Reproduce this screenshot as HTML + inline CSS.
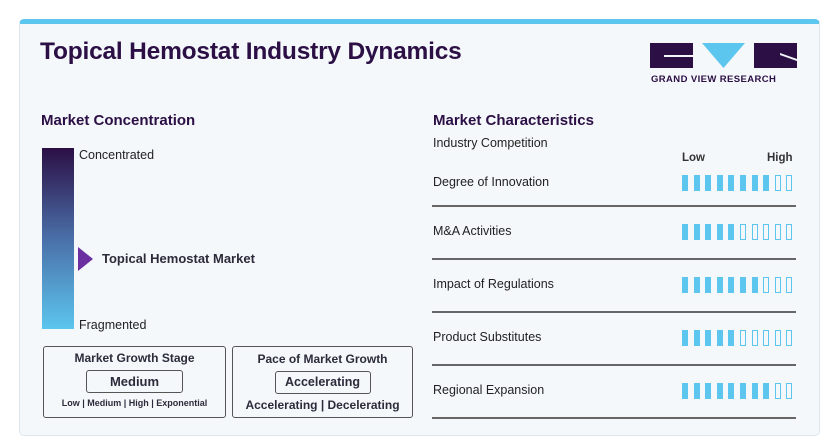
<!DOCTYPE html><html><head><style>
body{margin:0;width:829px;height:444px;background:#fff;font-family:"Liberation Sans",sans-serif;position:relative;overflow:hidden;color:#2a1a3a}
.card{position:absolute;left:19px;top:19px;width:801px;height:417px;background:#f4f8fb;border-radius:5px;border:1px solid #dde4ea;border-top:5px solid #5cc6ee;box-sizing:border-box}
.a{position:absolute;white-space:nowrap}
.t{font-weight:bold;font-size:24.5px;color:#2b0f45;letter-spacing:-0.2px}
.h{font-weight:bold;font-size:15px;color:#2b0f45}
.s{font-size:12.5px;color:#222}
.line{position:absolute;left:432px;width:364px;height:1.5px;background:#666}
.bars{position:absolute;left:682px;display:flex;gap:5.6px}
.bars i{display:block;width:6px;height:16px;box-sizing:border-box;border:1.3px solid #5cc6ee}
.bars i.f{background:#5cc6ee}
.box{position:absolute;border:1.3px solid #555;border-radius:3px;box-sizing:border-box;text-align:center;font-weight:bold;color:#2b2b3a}
</style></head><body>
<div class="card"></div>
<div class="a t" style="left:40px;top:38px">Topical Hemostat Industry Dynamics</div>
<svg class="a" style="left:650px;top:43px" width="148" height="30">
<rect x="0" y="0" width="43" height="25" fill="#2b0f45"/><rect x="14" y="12" width="29" height="2" fill="#f4f8fb"/>
<polygon points="52,0 95,0 73.5,25" fill="#5cc6ee"/>
<rect x="104" y="0" width="43" height="25" fill="#2b0f45"/><polygon points="130,10 147,16 147,18 130,12" fill="#f4f8fb"/>
</svg>
<div class="a" style="left:651px;top:74px;font-size:9.5px;font-weight:bold;color:#2b0f45;letter-spacing:0.4px">GRAND VIEW RESEARCH</div>
<div class="a h" style="left:41px;top:112px">Market Concentration</div>
<div class="a h" style="left:433px;top:112px">Market Characteristics</div>
<div class="a s" style="left:433px;top:136px">Industry Competition</div>
<div class="a" style="left:42px;top:148px;width:32px;height:181px;background:linear-gradient(#2b0f45,#4a6fa8 50%,#5cc6ee)"></div>
<div class="a s" style="left:79px;top:148px">Concentrated</div>
<div class="a s" style="left:79px;top:318px">Fragmented</div>
<svg class="a" style="left:78px;top:247px" width="16" height="24"><polygon points="0,0 15,12 0,24" fill="#6b2fa0"/></svg>
<div class="a" style="left:102px;top:251px;font-size:13px;font-weight:bold;color:#2b2b3a">Topical Hemostat Market</div>
<div class="a" style="left:682px;top:152px;font-size:11.5px;font-weight:bold;color:#333">Low</div>
<div class="a" style="left:767px;top:152px;font-size:11.5px;font-weight:bold;color:#333">High</div>

<div class="a s" style="left:433px;top:175px">Degree of Innovation</div>
<div class="bars" style="top:175px"><i class="f"></i><i class="f"></i><i class="f"></i><i class="f"></i><i class="f"></i><i class="f"></i><i class="f"></i><i class="f"></i><i></i><i></i></div>
<div class="line" style="top:205px"></div>
<div class="a s" style="left:433px;top:224px">M&amp;A Activities</div>
<div class="bars" style="top:224px"><i class="f"></i><i class="f"></i><i class="f"></i><i class="f"></i><i class="f"></i><i></i><i></i><i></i><i></i><i></i></div>
<div class="line" style="top:258px"></div>
<div class="a s" style="left:433px;top:277px">Impact of Regulations</div>
<div class="bars" style="top:277px"><i class="f"></i><i class="f"></i><i class="f"></i><i class="f"></i><i class="f"></i><i class="f"></i><i class="f"></i><i></i><i></i><i></i></div>
<div class="line" style="top:311px"></div>
<div class="a s" style="left:433px;top:330px">Product Substitutes</div>
<div class="bars" style="top:330px"><i class="f"></i><i class="f"></i><i class="f"></i><i class="f"></i><i class="f"></i><i></i><i></i><i></i><i></i><i></i></div>
<div class="line" style="top:364px"></div>
<div class="a s" style="left:433px;top:383px">Regional Expansion</div>
<div class="bars" style="top:383px"><i class="f"></i><i class="f"></i><i class="f"></i><i class="f"></i><i class="f"></i><i class="f"></i><i class="f"></i><i class="f"></i><i></i><i></i></div>
<div class="line" style="top:417px"></div>

<div class="box" style="left:43px;top:346px;width:183px;height:72px">
<div style="font-size:12px;margin-top:4px">Market Growth Stage</div>
<div class="box" style="position:relative;width:97px;height:23px;margin:5px auto 0;line-height:21px;font-size:13px">Medium</div>
<div style="font-size:9px;margin-top:5px">Low | Medium | High | Exponential</div>
</div>
<div class="box" style="left:232px;top:346px;width:181px;height:72px">
<div style="font-size:12px;margin-top:5px">Pace of Market Growth</div>
<div class="box" style="position:relative;width:96px;height:23px;margin:5px auto 0;line-height:21px;font-size:12.5px">Accelerating</div>
<div style="font-size:12px;margin-top:4px">Accelerating | Decelerating</div>
</div>
</body></html>
